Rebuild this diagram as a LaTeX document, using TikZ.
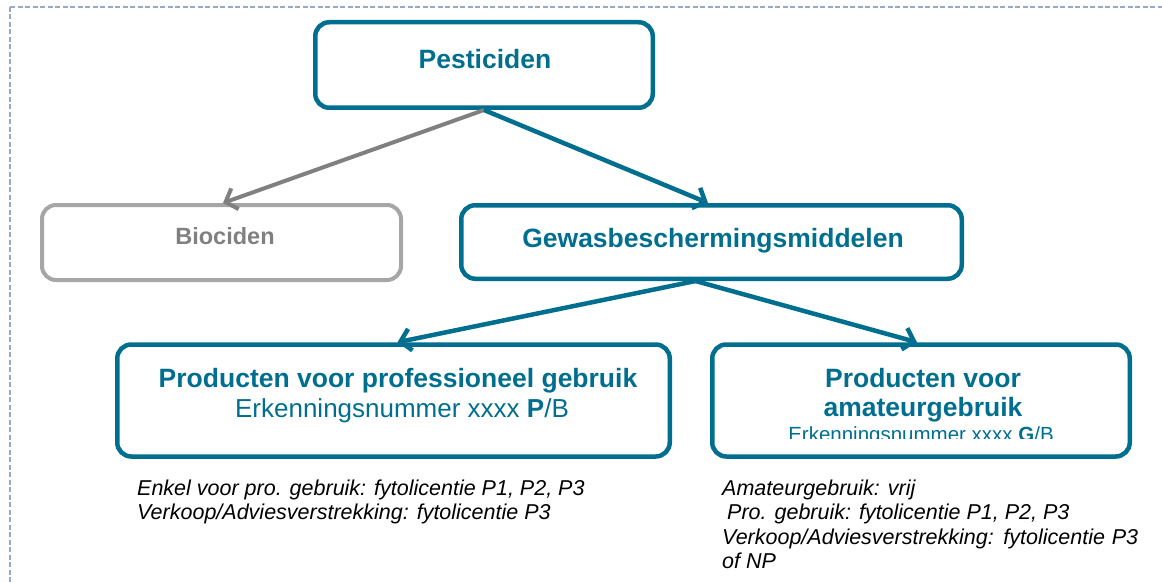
\documentclass[tikz,border=0pt]{standalone}
\usepackage{fontspec}
\setmainfont{Liberation Sans}
\usetikzlibrary{arrows.meta}
\definecolor{petrol}{RGB}{0,111,143}
\definecolor{framegray}{RGB}{150,170,198}
\definecolor{boxgray}{RGB}{166,166,166}
\definecolor{txtgray}{RGB}{128,128,128}

\begin{document}
\begin{tikzpicture}[x=1pt,y=-1pt,
    box/.style={draw=petrol,line width=4.5pt,rounded corners=14pt,inner sep=0pt},
    greybox/.style={draw=boxgray,line width=4pt,rounded corners=14pt,inner sep=0pt},
    title/.style={text=petrol,font=\bfseries\fontsize{26.5}{29}\selectfont,anchor=base,inner sep=0pt},
    sub/.style={text=petrol,font=\fontsize{26}{29}\selectfont,anchor=base,inner sep=0pt},
    note/.style={font=\itshape\fontsize{21.5}{24.5}\selectfont,anchor=north west,inner sep=0pt},
    link/.style={draw=petrol,line width=4.5pt,-{Straight Barb[length=10pt,width=22pt]}},
    greylink/.style={draw=txtgray,line width=4pt,-{Straight Barb[length=10pt,width=22pt]}},
    frame/.style={draw=framegray,line width=1.5pt,dash pattern=on 5pt off 2.5pt}
]
\useasboundingbox (0,0) rectangle (1162,583);
\draw[frame] (10,7) -- (1162,7);
\draw[frame] (10,7) -- (10,583);

\node[box,minimum width=337.5pt,minimum height=85.5pt] (pest) at (484,65) {};
\node[title] (pesttxt) at (485,68.5) {Pesticiden};

\node[greybox,minimum width=359pt,minimum height=75pt] (bio) at (221.5,242.5) {};
\node[title,text=txtgray,font=\bfseries\fontsize{23.5}{26}\selectfont] (biotxt) at (225,244.5) {Biociden};

\node[box,minimum width=500.5pt,minimum height=73.5pt] (gewas) at (711.5,242) {};
\node[title] (gewastxt) at (713,247.5) {Gewasbeschermingsmiddelen};

\node[box,minimum width=552.5pt,minimum height=112pt] (prof) at (393.5,400.5) {};
\node[title] (proftxt) at (398,387.5) {Producten voor professioneel gebruik};
\node[sub] (profnr) at (402,417.5) {Erkenningsnummer xxxx \textbf{P}/B};

\node[box,minimum width=417.5pt,minimum height=112pt] (amat) at (921,400.5) {};
\node[title] (amattxt) at (923,387.5) {Producten voor};
\node[title] (amattxtb) at (923,416.5) {amateurgebruik};
\begin{scope}
\clip (715,420) rectangle (1125,438);
\node[sub,font=\fontsize{20.5}{24}\selectfont] (amatnr) at (921,441.5) {Erkenningsnummer xxxx \textbf{G}/B};
\end{scope}

\node[note,align=left] (profnote) at (137,479.5) {Enkel voor pro. gebruik: fytolicentie P1, P2, P3\\Verkoop/Adviesverstrekking: fytolicentie P3};
\node[note,text width=416pt,align=justify] (amatnote) at (722,479.5) {Amateurgebruik: vrij\\\hspace*{5pt}Pro. gebruik: fytolicentie P1, P2, P3\\Verkoop/Adviesverstrekking: fytolicentie P3 of NP};

\draw[greylink] (pest.south) -- ([xshift=1.5pt]bio.north);
\draw[link] (pest.south) -- ([xshift=-3.5pt]gewas.north);
\draw[link] ([xshift=-16pt]gewas.south) -- ([xshift=4pt]prof.north);
\draw[link] ([xshift=-16pt]gewas.south) -- ([xshift=-4pt]amat.north);
\end{tikzpicture}
\end{document}
